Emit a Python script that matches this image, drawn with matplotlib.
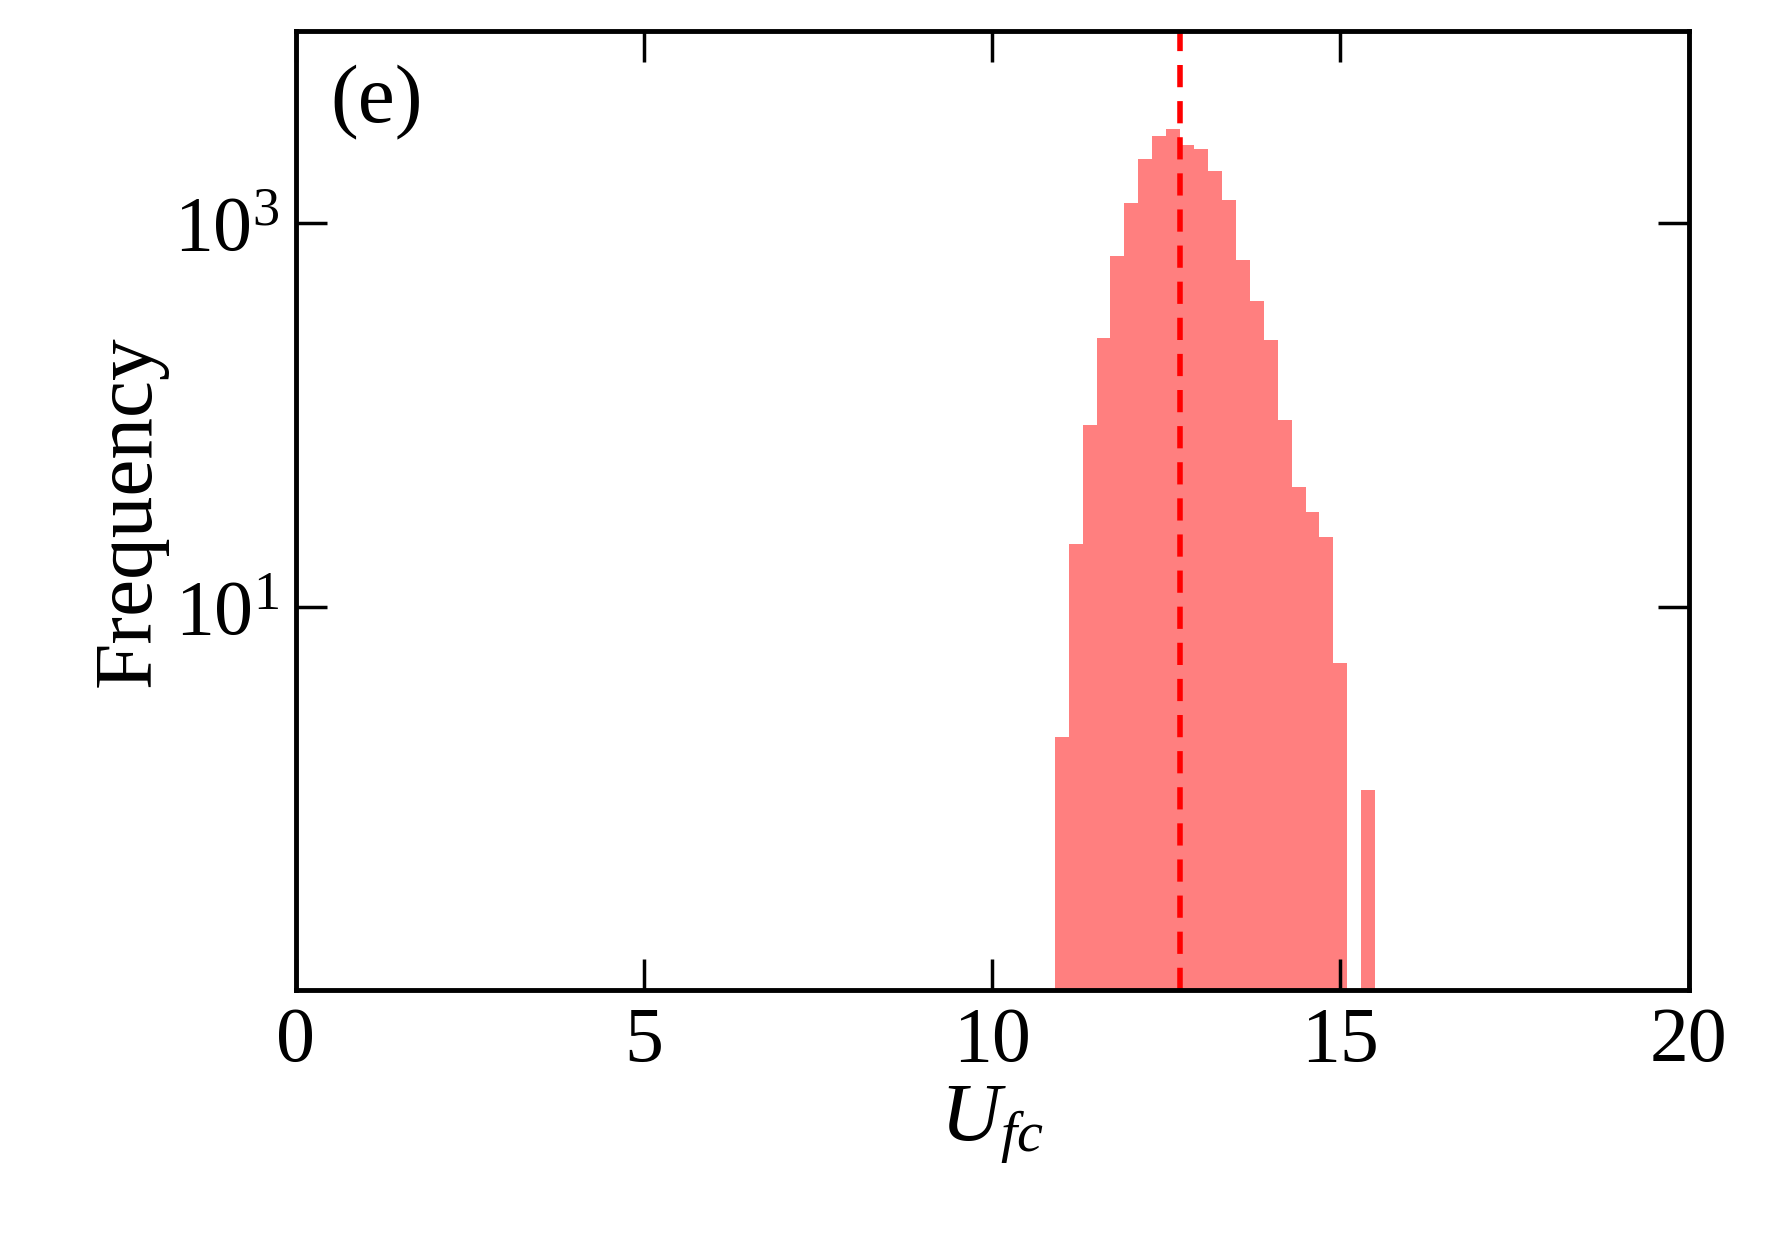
import matplotlib
matplotlib.use("Agg")
import matplotlib.pyplot as plt
import numpy as np

bin_start = 10.9
bin_width = 0.2
counts = [2.0, 21, 88, 252, 676, 1275, 2160, 2830, 3100,
          2540, 2440, 1860, 1310, 640, 394, 245, 94, 42, 31, 23, 5, 0, 1.0]
mean_line = 12.7

plt.rcParams['font.family'] = ['Liberation Serif', 'DejaVu Serif']
plt.rcParams['mathtext.fontset'] = 'custom'
plt.rcParams['mathtext.it'] = 'Liberation Serif:italic'
plt.rcParams['mathtext.rm'] = 'Liberation Serif'

fig = plt.figure(figsize=(17.7, 12.47), dpi=100)
ax = fig.add_axes([0.167, 0.206, 0.787, 0.769])

edges = bin_start + bin_width * np.arange(len(counts))
c = np.array(counts, dtype=float)
mask = c > 0
ax.bar(edges[mask], c[mask], width=bin_width, align='edge', color='#ff7f7f', linewidth=0, bottom=0.1)
ax.axvline(mean_line, color='red', linestyle='--', linewidth=4, dashes=(4, 2.5))

ax.set_yscale('log')
ax.set_ylim(0.1, 1e4)
ax.set_xlim(0, 20)
ax.set_xticks([0, 5, 10, 15, 20])
ax.set_yticks([10, 1000])
ax.set_yticklabels([r'$10^1$', r'$10^3$'])
ax.yaxis.set_minor_locator(matplotlib.ticker.NullLocator())
ax.tick_params(direction='in', length=22, width=2.5, labelsize=56, top=True, right=True, pad=12)
for s in ax.spines.values():
    s.set_linewidth(3.5)
ax.set_xlabel(r'$U_{fc}$', fontsize=60)
ax.set_ylabel('Frequency', fontsize=60)
ax.text(0.025, 0.965, '(e)', transform=ax.transAxes, fontsize=60, va='top', ha='left')
fig.savefig('out.png', dpi=100)
